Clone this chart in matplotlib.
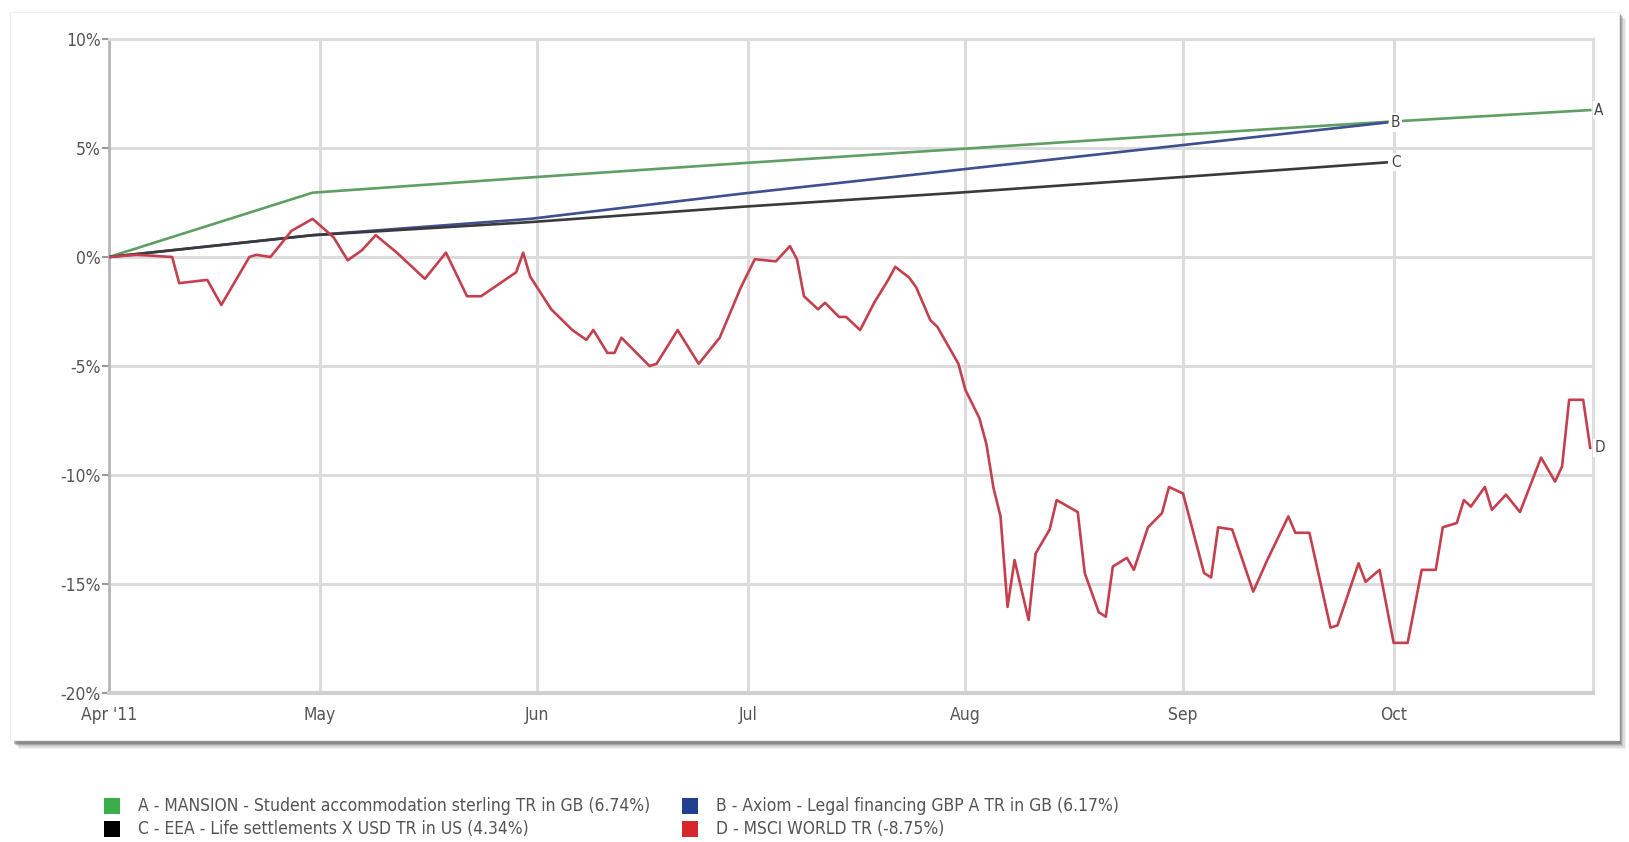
import pandas as pd
import matplotlib
matplotlib.use('Agg')
import matplotlib.pyplot as plt
import matplotlib.ticker as mticker
from matplotlib.patches import Rectangle

plt.rcParams['font.family'] = ['DejaVu Sans']
plt.rcParams['font.stretch'] = 'condensed'

W, H = 1629, 842

# --- data (cumulative total return, %) ---
a_dates = ['2011-04-01', '2011-04-30', '2011-05-31', '2011-06-30', '2011-07-31',
           '2011-08-31', '2011-09-30', '2011-10-29']
a_vals = [0.0, 2.95, 3.65, 4.3, 4.95, 5.6, 6.2, 6.74]

b_dates = ['2011-04-01', '2011-04-30', '2011-05-31', '2011-06-30', '2011-07-31',
           '2011-08-31', '2011-09-30']
b_vals = [0.0, 1.0, 1.75, 2.9, 4.0, 5.1, 6.17]

c_dates = b_dates
c_vals = [0.0, 1.0, 1.6, 2.3, 2.95, 3.65, 4.34]

d_dates = ['2011-04-01', '2011-04-05', '2011-04-10', '2011-04-11', '2011-04-15',
           '2011-04-17', '2011-04-21', '2011-04-22', '2011-04-24', '2011-04-27',
           '2011-04-30', '2011-05-03', '2011-05-05', '2011-05-07', '2011-05-09',
           '2011-05-12', '2011-05-16', '2011-05-19', '2011-05-22', '2011-05-24',
           '2011-05-29', '2011-05-30', '2011-05-31', '2011-06-03', '2011-06-06',
           '2011-06-08', '2011-06-09', '2011-06-11', '2011-06-12', '2011-06-13',
           '2011-06-17', '2011-06-18', '2011-06-21', '2011-06-24', '2011-06-27',
           '2011-06-30', '2011-07-02', '2011-07-05', '2011-07-07', '2011-07-08',
           '2011-07-09', '2011-07-11', '2011-07-12', '2011-07-14', '2011-07-15',
           '2011-07-17', '2011-07-19', '2011-07-21', '2011-07-22', '2011-07-24',
           '2011-07-25', '2011-07-27', '2011-07-28', '2011-07-31', '2011-08-01',
           '2011-08-03', '2011-08-04', '2011-08-05', '2011-08-06', '2011-08-07',
           '2011-08-08', '2011-08-10', '2011-08-11', '2011-08-13', '2011-08-14',
           '2011-08-17', '2011-08-18', '2011-08-20', '2011-08-21', '2011-08-22',
           '2011-08-24', '2011-08-25', '2011-08-27', '2011-08-29', '2011-08-30',
           '2011-09-01', '2011-09-04', '2011-09-05', '2011-09-06', '2011-09-08',
           '2011-09-11', '2011-09-13', '2011-09-16', '2011-09-17', '2011-09-19',
           '2011-09-22', '2011-09-23', '2011-09-26', '2011-09-27', '2011-09-29',
           '2011-10-01', '2011-10-03', '2011-10-05', '2011-10-07', '2011-10-08',
           '2011-10-10', '2011-10-11', '2011-10-12', '2011-10-14', '2011-10-15',
           '2011-10-17', '2011-10-19', '2011-10-22', '2011-10-24', '2011-10-25',
           '2011-10-26', '2011-10-28', '2011-10-29']
d_vals = [0.0, 0.1, 0.0, -1.2, -1.05,
          -2.2, 0.0, 0.1, 0.0, 1.2,
          1.75, 0.9, -0.15, 0.3, 1.0,
          0.2, -1.0, 0.2, -1.8, -1.8,
          -0.7, 0.2, -0.9, -2.4, -3.35,
          -3.8, -3.35, -4.4, -4.4, -3.7,
          -5.0, -4.9, -3.35, -4.9, -3.7,
          -1.4, -0.1, -0.2, 0.5, -0.1,
          -1.8, -2.4, -2.1, -2.75, -2.75,
          -3.35, -2.1, -1.05, -0.45, -0.95,
          -1.4, -2.9, -3.2, -4.9, -6.1,
          -7.4, -8.6, -10.6, -11.9, -16.05,
          -13.9, -16.65, -13.6, -12.5, -11.15,
          -11.7, -14.5, -16.3, -16.5, -14.2,
          -13.8, -14.35, -12.4, -11.75, -10.55,
          -10.85, -14.5, -14.7, -12.4, -12.5,
          -15.35, -13.9, -11.9, -12.65, -12.65,
          -17.0, -16.9, -14.05, -14.9, -14.35,
          -17.7, -17.7, -14.35, -14.35, -12.4,
          -12.2, -11.15, -11.45, -10.55, -11.6,
          -10.9, -11.7, -9.2, -10.3, -9.6,
          -6.55, -6.55, -8.75]

series_keys = ['A', 'B', 'C', 'D']
line_colors = ['#5f9f62', '#3e4f92', '#3a3a3a', '#c4404e']
legend_colors = ['#3aae4a', '#22408f', '#000000', '#d7262c']
legend_labels = ['A - MANSION - Student accommodation sterling TR in GB (6.74%)',
                 'B - Axiom - Legal financing GBP A TR in GB (6.17%)',
                 'C - EEA - Life settlements X USD TR in US (4.34%)',
                 'D - MSCI WORLD TR (-8.75%)']

y_ticks = [10, 5, 0, -5, -10, -15, -20]
month_ticks = ['2011-04-01', '2011-05-01', '2011-06-01', '2011-07-01',
               '2011-08-01', '2011-09-01', '2011-10-01']
month_labels = ["Apr '11", 'May', 'Jun', 'Jul', 'Aug', 'Sep', 'Oct']

fig = plt.figure(figsize=(W / 100, H / 100), dpi=100)
fig.patch.set_facecolor('white')


def fx(px):
    return px / W


def fy(py):
    return 1 - py / H


# panel with soft drop shadow
for i, al in enumerate([0.08, 0.12, 0.18, 0.26, 0.36]):
    off = 7 - i * 1.3
    fig.patches.append(Rectangle((fx(12 + off), fy(742 + off)), fx(1607), 730 / H,
                                 transform=fig.transFigure, facecolor='#555555',
                                 edgecolor='none', alpha=al, zorder=0))
fig.patches.append(Rectangle((fx(10), fy(740)), fx(1609), 728 / H,
                             transform=fig.transFigure, facecolor='white',
                             edgecolor='#eeeeee', lw=0.8, zorder=1))

ax = fig.add_axes([fx(109), fy(693), fx(1593 - 109), (693 - 39) / H])
ax.set_zorder(2)
ax.set_facecolor('white')

grid_c = '#dcdcdc'
for key, dts, vals, col in zip(series_keys,
                               [a_dates, b_dates, c_dates, d_dates],
                               [a_vals, b_vals, c_vals, d_vals],
                               line_colors):
    x = pd.to_datetime(dts)
    ax.plot(x, vals, color=col, lw=1.9, zorder=3 if key != 'D' else 4)
    ax.annotate(key, (x[-1], vals[-1]), xytext=(3, 0), textcoords='offset points',
                ha='left', va='center', fontsize=11, color='#444444',
                bbox=dict(boxstyle='square,pad=0.1', fc='white', ec='none'),
                annotation_clip=False, zorder=5)

x0 = pd.Timestamp('2011-04-01')
ax.set_xlim(x0, x0 + pd.Timedelta(days=211.4))
ax.set_ylim(-20, 10)

ax.set_yticks(y_ticks)
ax.yaxis.set_major_formatter(mticker.FuncFormatter(lambda v, p: f'{v:.0f}%'))
ax.set_xticks(pd.to_datetime(month_ticks))
ax.set_xticklabels(month_labels)

ax.grid(True, color=grid_c, lw=2.2, zorder=0)
ax.set_axisbelow(True)
for side in ['top', 'right']:
    ax.spines[side].set_color(grid_c)
    ax.spines[side].set_linewidth(2)
ax.spines['left'].set_color('#b8b8b8')
ax.spines['left'].set_linewidth(2)
ax.spines['bottom'].set_color('#cfcfcf')
ax.spines['bottom'].set_linewidth(3)

ax.tick_params(axis='y', length=5, width=1.5, color='#999999', pad=1,
               labelsize=12.5, labelcolor='#555555')
ax.tick_params(axis='x', length=0, pad=9, labelsize=12.5, labelcolor='#555555')

# legend below the panel
leg_x = [104, 682, 104, 682]
leg_y = [806, 806, 829, 829]
for lx, ly, col, lab in zip(leg_x, leg_y, legend_colors, legend_labels):
    fig.patches.append(Rectangle((fx(lx), fy(ly + 8)), fx(16), 16 / H,
                                 transform=fig.transFigure, facecolor=col,
                                 edgecolor='none', zorder=3))
    fig.text(fx(lx + 34), fy(ly), lab, ha='left', va='center', fontsize=12.5,
             color='#555555')

fig.savefig('out.png', dpi=100, facecolor='white')
